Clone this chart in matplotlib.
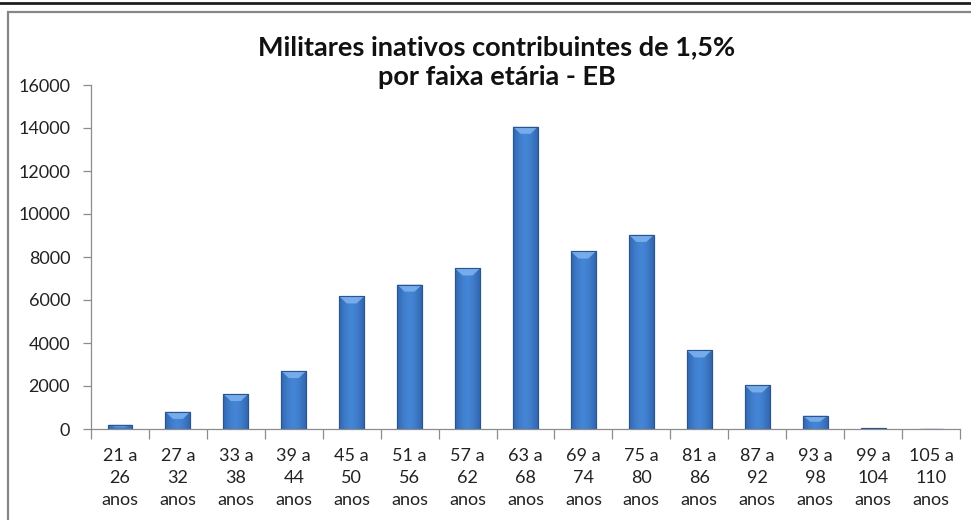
import numpy as np
import matplotlib.pyplot as plt
from matplotlib.patches import Rectangle, Polygon
from matplotlib.lines import Line2D

# Data
faixas = ['21 a\n26\nanos', '27 a\n32\nanos', '33 a\n38\nanos', '39 a\n44\nanos',
          '45 a\n50\nanos', '51 a\n56\nanos', '57 a\n62\nanos', '63 a\n68\nanos',
          '69 a\n74\nanos', '75 a\n80\nanos', '81 a\n86\nanos', '87 a\n92\nanos',
          '93 a\n98\nanos', '99 a\n104\nanos', '105 a\n110\nanos']
contribuintes = [200, 800, 1630, 2700, 6170, 6720, 7470, 14060, 8260, 9030,
                 3660, 2030, 620, 30, 20]
y_ticks = [0, 2000, 4000, 6000, 8000, 10000, 12000, 14000, 16000]

plt.rcParams['font.family'] = ['Lato', 'DejaVu Sans']

fig = plt.figure(figsize=(9.71, 5.2), dpi=100)
ax = fig.add_axes([91/971, 1 - 429/520, (960 - 91)/971, (429 - 85)/520])

x = np.arange(len(faixas))
bars = ax.bar(x, contribuintes, width=0.43, color='#3a74c2', edgecolor='#2a5590',
              linewidth=0.8, zorder=2)

# Horizontal gradient inside each bar (darker edges, lighter middle)
t = np.linspace(0, 1, 64)
shade = 1 - 0.6 * np.abs(2 * t - 1) ** 1.6
dark = np.array([0x24, 0x52, 0x94]) / 255
light = np.array([0x45, 0x85, 0xd6]) / 255
grad = (dark[None, :] + (light - dark)[None, :] * shade[:, None])[None, :, :]

for b, h in zip(bars, contribuintes):
    x0 = b.get_x()
    w = b.get_width()
    im = ax.imshow(grad, extent=[x0, x0 + w, 0, h], aspect='auto',
                   interpolation='bicubic', zorder=2.5)
    im.set_clip_path(b)
    # bevel at the top
    dy = min(330, h * 0.45)
    bevel = Polygon([[x0, h], [x0 + w, h], [x0 + w * 0.7, h - dy], [x0 + w * 0.3, h - dy]],
                    closed=True, facecolor='#80b4ef', edgecolor='none', alpha=0.85, zorder=3)
    ax.add_patch(bevel)
    ax.add_patch(Rectangle((x0, 0), w, h, fill=False, edgecolor='#2a5590',
                           linewidth=0.8, zorder=3.5))

ax.set_xlim(-0.5, len(faixas) - 0.5)
ax.set_ylim(0, 16000)
ax.set_yticks(y_ticks)
ax.set_yticklabels([str(v) for v in y_ticks], fontsize=13, color='#222222')
ax.set_xticks(x)
ax.set_xticklabels(faixas, fontsize=13, color='#222222', linespacing=1.45)
ax.tick_params(axis='x', length=0, pad=14)
ax.tick_params(axis='y', length=6, width=0.9, color='#8c8c8c', pad=9)

# category boundary ticks on the x axis
ax.set_xticks(np.arange(len(faixas) + 1) - 0.5, minor=True)
ax.tick_params(axis='x', which='minor', length=7, width=0.9, color='#8c8c8c')

for s in ['top', 'right']:
    ax.spines[s].set_visible(False)
for s in ['left', 'bottom']:
    ax.spines[s].set_color('#8c8c8c')
    ax.spines[s].set_linewidth(0.9)

fig.text(497/971, 1 - 62/520, 'Militares inativos contribuintes de 1,5%\npor faixa etária - EB',
         ha='center', va='center', fontsize=19.5, fontweight='bold', linespacing=1.3,
         color='#111111')

# chart frame and top rule
fig.add_artist(Rectangle((8/971, -0.05), 1.1, 1 - 12/520 + 0.05, transform=fig.transFigure,
                         fill=False, edgecolor='#868686', linewidth=1.6))
fig.add_artist(Line2D([0, 1], [1 - 3/520, 1 - 3/520], transform=fig.transFigure,
                      color='#1e1e1e', linewidth=2))

fig.savefig('out.png', dpi=100)
